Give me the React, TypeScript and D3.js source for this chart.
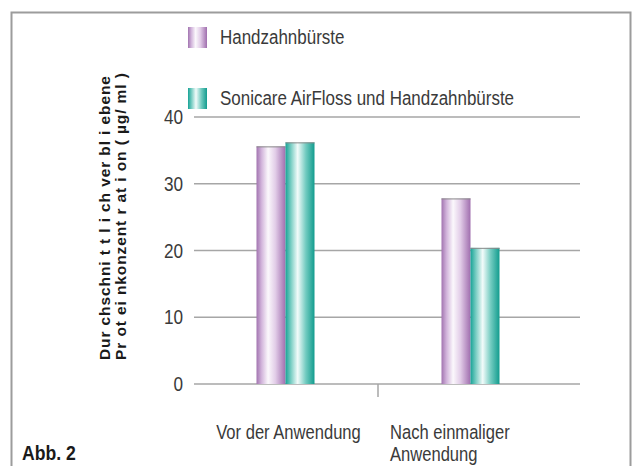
import React from 'react';
import * as d3 from 'd3';

// chart data
const categories = ['Vor der Anwendung', 'Nach einmaliger Anwendung'];
const categoryLines = [['Vor der Anwendung'], ['Nach einmaliger', 'Anwendung']];
const seriesNames = ['Handzahnbürste', 'Sonicare AirFloss und Handzahnbürste'];
const handValues = [35.6, 27.8];
const airflossValues = [36.2, 20.4];
const yTicks = [0, 10, 20, 30, 40];
const yTitle = ['Dur chschni t t l i ch ver bl i ebene', 'Pr ot ei nkonzent r at i on ( µg/ ml )'];
const figureLabel = 'Abb. 2';

const W = 632;
const H = 466;
const margin = { top: 117, right: 52, bottom: 82, left: 194 };
const sans = '"Liberation Sans", Arial, sans-serif';

// no narrow font installed, so squeeze Liberation Sans horizontally
const NarrowText = ({ x, y, anchor = 'start', size = 19.5, sx = 0.85, weight = 'normal', fill = '#3a3a3a', children }) => (
  <text
    transform={`translate(${x},${y}) scale(${sx},1)`}
    textAnchor={anchor}
    fontFamily={sans}
    fontSize={size}
    fontWeight={weight}
    fill={fill}
  >
    {children}
  </text>
);

const App = () => {
  const plotRight = W - margin.right;
  const plotBottom = H - margin.bottom;

  const y = d3.scaleLinear().domain([0, 40]).range([plotBottom, margin.top]);
  // categories occupy a slightly narrower range than the gridlines
  const x = d3.scaleBand().domain(categories).range([193, 563]).padding(0);
  const barW = 29;
  const xSub = d3.scaleBand().domain(seriesNames).range([-barW, barW]);

  const series = [
    { name: seriesNames[0], values: handValues, grad: 'gPurple' },
    { name: seriesNames[1], values: airflossValues, grad: 'gTeal' },
  ];

  return (
    <svg width={W} height={H} style={{ position: 'absolute', left: 0, top: 0 }}>
      <defs>
        <linearGradient id="gPurple" x1="0" x2="1" y1="0" y2="0">
          <stop offset="0" stopColor="#a274b0" />
          <stop offset="0.18" stopColor="#d3b6dc" />
          <stop offset="0.4" stopColor="#fbf8fc" />
          <stop offset="0.65" stopColor="#e2cde8" />
          <stop offset="1" stopColor="#a06eae" />
        </linearGradient>
        <linearGradient id="gTeal" x1="0" x2="1" y1="0" y2="0">
          <stop offset="0" stopColor="#17a396" />
          <stop offset="0.2" stopColor="#7fd0c6" />
          <stop offset="0.42" stopColor="#f2fbfa" />
          <stop offset="0.7" stopColor="#72cbc0" />
          <stop offset="1" stopColor="#129c8e" />
        </linearGradient>
      </defs>
      {/* frame */}
      <path d={`M11.5,${H + 5}V12.5H630.5V${H + 5}`} fill="none" stroke="#9c9c9c" strokeWidth={2} />

      {/* gridlines + y ticks */}
      {yTicks.map(t => (
        <g key={t}>
          <line x1={margin.left} x2={plotRight} y1={y(t)} y2={y(t)} stroke="#a6a6a6" strokeWidth={1.5} />
          <NarrowText x={183} y={y(t) + 7} anchor="end" sx={0.88}>{t}</NarrowText>
        </g>
      ))}
      {/* category separator tick */}
      <line x1={x(categories[1])} x2={x(categories[1])} y1={plotBottom} y2={plotBottom + 13} stroke="#a6a6a6" strokeWidth={1.5} />

      {/* bars */}
      {series.map(s => (
        <g key={s.name}>
          {categories.map((c, i) => {
            const bx = x(c) + x.bandwidth() / 2 + xSub(s.name);
            return (
              <g key={c}>
                <rect x={bx} y={y(s.values[i])} width={xSub.bandwidth()} height={plotBottom - y(s.values[i])} fill={`url(#${s.grad})`} />
                <line x1={bx} x2={bx + xSub.bandwidth()} y1={y(s.values[i]) + 0.5} y2={y(s.values[i]) + 0.5} stroke="#8a8a8a" strokeWidth={1} />
              </g>
            );
          })}
        </g>
      ))}

      {/* category labels */}
      {categories.map((c, i) => {
        const first = i === 0;
        const tx = first ? x(c) + x.bandwidth() / 2 + 3 : x(c) + 12;
        return categoryLines[i].map((ln, j) => (
          <NarrowText key={c + j} x={tx} y={439 + j * 22} anchor={first ? 'middle' : 'start'}>{ln}</NarrowText>
        ));
      })}

      {/* legend */}
      {series.map((s, i) => (
        <g key={s.name}>
          <rect x={188} y={27 + i * 61} width={19} height={21} fill={`url(#${s.grad})`} />
          <NarrowText x={220} y={44 + i * 61} sx={0.87}>{s.name}</NarrowText>
        </g>
      ))}

      {/* y axis title */}
      {yTitle.map((t, i) => (
        <text key={i} transform={`translate(${110 + i * 16},360) rotate(-90)`} fontFamily={sans} fontWeight="bold" fontSize={15.5} letterSpacing={0.9} fill="#1a1a1a">{t}</text>
      ))}

      {/* figure label */}
      <NarrowText x={22} y={460} size={21} sx={0.84} weight="bold" fill="#1a1a1a">{figureLabel}</NarrowText>
    </svg>
  );
};

export default App;
